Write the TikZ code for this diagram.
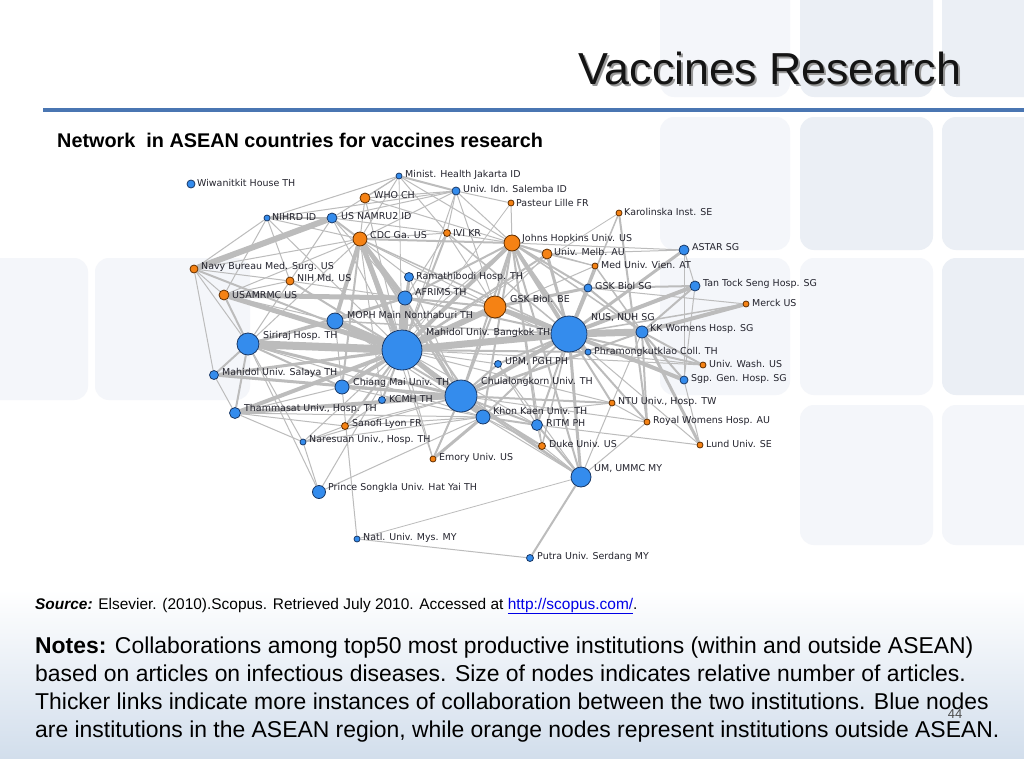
\documentclass[tikz,border=0pt]{standalone}
\usepackage{fontspec}
\setmainfont{Liberation Sans}
\newfontfamily\labfont{DejaVu Sans}
\pgfdeclarelayer{bg}\pgfdeclarelayer{edges}
\pgfsetlayers{bg,edges,main}
\definecolor{bfill}{RGB}{52,140,237}
\definecolor{bline}{RGB}{25,55,100}
\definecolor{ofill}{RGB}{245,130,20}
\definecolor{oline}{RGB}{95,45,0}
\definecolor{edgec}{RGB}{188,188,188}
\definecolor{labc}{RGB}{35,35,45}
\definecolor{rulec}{RGB}{74,118,178}
\definecolor{linkc}{RGB}{0,0,230}
\definecolor{tileA}{RGB}{235,239,245}
\definecolor{tileB}{RGB}{244,246,250}
\definecolor{panelB}{RGB}{210,222,236}
\tikzset{
 bn/.style={circle,draw=bline,fill=bfill,line width=0.8bp,inner sep=0pt,minimum size=#1},
 on/.style={circle,draw=oline,fill=ofill,line width=0.8bp,inner sep=0pt,minimum size=#1},
 lab/.style={anchor=west,inner sep=0pt,text=labc,font=\labfont\fontsize{9.5}{11}\selectfont},
 lk/.style={draw=edgec,line width=#1},
 tile/.style={fill=#1,rounded corners=14bp,draw=none},
 txt/.style={anchor=base west,inner sep=0pt},
}
\newcommand\NN[8]{\node[#5=#4bp] (#1) at (#2,#3) {};\node[lab] (#1l) at (#6,#7) {#8};}
\begin{document}
\begin{tikzpicture}[x=1bp,y=-1bp]
\useasboundingbox (0,0) rectangle (1024,768);
\begin{pgfonlayer}{bg}
\fill[white] (0,0) rectangle (1024,768);
\fill[tile=tileB] (660,-20) rectangle (790,97);
\fill[tile=tileA] (800,-20) rectangle (933,97);
\fill[tile=tileA] (942,-20) rectangle (1044,97);
\fill[tile=tileB] (660,117) rectangle (790,250);
\fill[tile=tileA] (800,117) rectangle (933,250);
\fill[tile=tileA] (942,117) rectangle (1044,250);
\fill[tile=tileB] (660,258) rectangle (790,395);
\fill[tile=tileB] (800,258) rectangle (933,395);
\fill[tile=tileA] (942,258) rectangle (1044,395);
\fill[tile=tileB] (800,405) rectangle (933,545);
\fill[tile=tileB] (942,405) rectangle (1044,545);
\fill[tile=tileB] (95,258) rectangle (250,400);
\fill[tile=tileB] (-20,258) rectangle (88,400);
\shade[top color=white,bottom color=panelB] (0,590) rectangle (1024,758);
\end{pgfonlayer}
% title
\node[txt,text=black!40] at (580,87) {\fontsize{45}{50}\selectfont Vaccines Research};
\node[txt,text=black!92] (title) at (578,85) {\fontsize{45}{50}\selectfont Vaccines Research};
\fill[rulec] (43,108) rectangle (1024,112);
\node[txt] (sub) at (57,147) {\fontsize{19.9}{22}\selectfont\bfseries Network\ \ in ASEAN countries for vaccines research};
% nodes
\NN{wiw}{191}{184}{8}{bn}{197}{183}{Wiwanitkit House TH}
\NN{min}{399}{176}{6}{bn}{405}{175}{Minist. Health Jakarta ID}
\NN{who}{365}{198}{10}{on}{374}{195}{WHO CH}
\NN{idn}{456}{191}{8}{bn}{463}{189}{Univ. Idn. Salemba ID}
\NN{nihrd}{267}{218}{6}{bn}{272}{217}{NIHRD ID}
\NN{namru}{332}{218}{10}{bn}{341}{216}{US NAMRU2 ID}
\NN{cdc}{360}{239}{14}{on}{370}{235}{CDC Ga. US}
\NN{ivi}{447}{233}{7}{on}{453}{233}{IVI KR}
\NN{navy}{194}{269}{8}{on}{201}{267}{Navy Bureau Med. Surg. US}
\NN{nih}{290}{281}{8}{on}{297}{278}{NIH Md. US}
\NN{usam}{224}{295}{10}{on}{232}{295}{USAMRMC US}
\NN{rama}{409}{277}{9}{bn}{416}{277}{Ramathibodi Hosp. TH}
\NN{afr}{405}{298}{14}{bn}{415}{292}{AFRIMS TH}
\NN{pas}{511}{203}{6}{on}{516}{203}{Pasteur Lille FR}
\NN{kar}{619}{213}{6}{on}{624}{212}{Karolinska Inst. SE}
\NN{jhu}{512}{243}{16}{on}{522}{239}{Johns Hopkins Univ. US}
\NN{melb}{547}{254}{10}{on}{554}{252}{Univ. Melb. AU}
\NN{astar}{684}{250}{10}{bn}{692}{247}{ASTAR SG}
\NN{vien}{595}{266}{6}{on}{601}{265}{Med Univ. Vien. AT}
\NN{gsksg}{588}{288}{8}{bn}{595}{286}{GSK Biol SG}
\NN{tts}{695}{286}{10}{bn}{703}{284}{Tan Tock Seng Hosp. SG}
\NN{gskbe}{495}{307}{22}{on}{510}{299}{GSK Biol. BE}
\NN{moph}{335}{321}{16}{bn}{347}{315}{MOPH Main Nonthaburi TH}
\NN{sir}{248}{344}{22}{bn}{263}{336}{Siriraj Hosp. TH}
\NN{mb}{402}{350}{40}{bn}{426}{333}{Mahidol Univ. Bangkok TH}
\NN{sal}{214}{375}{9}{bn}{222}{373}{Mahidol Univ. Salaya TH}
\NN{cm}{342}{387}{14}{bn}{353}{383}{Chiang Mai Univ. TH}
\NN{kcmh}{382}{400}{7}{bn}{389}{399}{KCMH TH}
\NN{chula}{461}{396}{32}{bn}{481}{382}{Chulalongkorn Univ. TH}
\NN{tham}{235}{413}{11}{bn}{244}{409}{Thammasat Univ., Hosp. TH}
\NN{kkn}{483}{417}{14}{bn}{493}{411}{Khon Kaen Univ. TH}
\NN{san}{345}{426}{7}{on}{352}{424}{Sanofi Lyon FR}
\NN{upm}{498}{364}{7}{bn}{505}{362}{UPM, PGH PH}
\NN{merck}{746}{304}{6}{on}{752}{303}{Merck US}
\NN{nus}{569}{334}{36}{bn}{591}{318}{NUS, NUH SG}
\NN{kkw}{642}{332}{12}{bn}{650}{329}{KK Womens Hosp. SG}
\NN{phr}{588}{352}{6}{bn}{594}{352}{Phramongkutklao Coll. TH}
\NN{wash}{703}{365}{6}{on}{709}{364}{Univ. Wash. US}
\NN{sgh}{684}{380}{8}{bn}{691}{379}{Sgp. Gen. Hosp. SG}
\NN{ntu}{612}{403}{6}{on}{618}{402}{NTU Univ., Hosp. TW}
\NN{roy}{647}{422}{6}{on}{653}{421}{Royal Womens Hosp. AU}
\NN{ritm}{537}{425}{11}{bn}{546}{423}{RITM PH}
\NN{nar}{303}{442}{6}{bn}{309}{440}{Naresuan Univ., Hosp. TH}
\NN{emo}{433}{459}{6}{on}{439}{458}{Emory Univ. US}
\NN{psu}{319}{492}{13}{bn}{328}{488}{Prince Songkla Univ. Hat Yai TH}
\NN{num}{357}{539}{6}{bn}{363}{538}{Natl. Univ. Mys. MY}
\NN{duke}{542}{446}{7}{on}{549}{444}{Duke Univ. US}
\NN{lund}{700}{445}{6}{on}{706}{444}{Lund Univ. SE}
\NN{um}{581}{477}{20}{bn}{594}{469}{UM, UMMC MY}
\NN{putra}{530}{558}{7}{bn}{537}{557}{Putra Univ. Serdang MY}
% edges
\begin{pgfonlayer}{edges}
\foreach \a/\b/\w in {
mb/afr/9,mb/sir/8,mb/moph/6,mb/cdc/5,mb/gskbe/6,mb/nus/7,mb/chula/5,mb/cm/4,mb/kkn/3,mb/tham/4,
mb/sal/3,mb/jhu/4,mb/usam/5,mb/rama/3,mb/nih/2,mb/navy/2,mb/who/1,mb/min/0.8,mb/melb/2,mb/kcmh/2,
mb/upm/1,mb/ritm/1,mb/san/2,mb/nar/1,mb/psu/1,mb/emo/1,mb/phr/2,mb/um/1.5,mb/namru/1,mb/ivi/2,
mb/pas/0.8,mb/wash/1,mb/vien/1,mb/idn/1,mb/nihrd/1,mb/kar/0.8,mb/ntu/1,
nus/kkw/7,nus/tts/4,nus/gsksg/4,nus/sgh/4,nus/phr/3,nus/astar/3,nus/jhu/4,nus/gskbe/5,nus/chula/4,
nus/um/3,nus/ritm/2,nus/ntu/2,nus/roy/2,nus/lund/1,nus/merck/1.5,nus/wash/2,nus/duke/1.5,nus/kar/1.5,
nus/melb/3,nus/vien/2,nus/kkn/2,nus/upm/2,nus/ivi/1.5,nus/cdc/1.5,nus/afr/2,nus/moph/1.5,nus/rama/1,
kkw/merck/4,kkw/tts/2,kkw/sgh/2,kkw/lund/3,kkw/wash/2,kkw/roy/2,kkw/gsksg/2,kkw/vien/1.5,kkw/ntu/1,
kkw/chula/2,kkw/jhu/1.5,
cdc/afr/4,cdc/moph/4,cdc/namru/2,cdc/nihrd/1,cdc/who/1,cdc/ivi/1,cdc/jhu/2,cdc/navy/1,cdc/usam/1,
cdc/sir/1,cdc/chula/2,cdc/kkn/2,cdc/cm/2,cdc/rama/1,cdc/kcmh/1,cdc/emo/1,cdc/gskbe/1,cdc/min/1,
jhu/afr/2,jhu/chula/2,jhu/melb/2,jhu/pas/1,jhu/idn/1,jhu/min/1,jhu/astar/1,jhu/gsksg/2,jhu/phr/2,
jhu/ritm/2,jhu/kkn/2,jhu/duke/1,jhu/um/2,jhu/vien/1,jhu/who/1,jhu/ivi/1,
chula/kcmh/5,chula/kkn/3,chula/tham/4,chula/cm/2,chula/sir/3,chula/ritm/2,chula/upm/2,chula/duke/2,
chula/emo/2,chula/san/1,chula/nar/1,chula/um/2,chula/gskbe/2,chula/phr/2,chula/ntu/2,chula/roy/1,
chula/sal/3,chula/moph/2,chula/afr/2,chula/rama/1,
idn/min/2,idn/namru/1,idn/nihrd/1,idn/who/1,idn/ivi/1,idn/gskbe/1,idn/cdc/1,idn/pas/1,
min/nihrd/1,min/who/1,min/namru/1,min/ivi/1,
nihrd/namru/2,nihrd/navy/1,nihrd/nih/1,nihrd/usam/1,
navy/namru/6,navy/usam/1,navy/nih/1,navy/sir/1,navy/sal/1,
namru/afr/1,namru/nih/1,namru/ivi/1,
usam/afr/5,usam/sir/2,usam/nih/1,usam/moph/1,
nih/afr/1,nih/sir/1,
sir/sal/2,sir/tham/2,sir/cm/2,sir/kkn/1,sir/moph/2,sir/nar/1,sir/psu/1,sir/afr/2,
sal/tham/1,tham/nar/1,tham/cm/1,tham/kkn/1,tham/san/1,
psu/nar/1,psu/kkn/1,num/cm/1,num/putra/1,num/um/0.8,putra/um/2,
um/duke/1,um/ritm/2,um/kkn/1,um/roy/1,um/ntu/1,um/upm/1,
emo/kkn/3,nar/san/1,nar/kkn/1,san/kkn/1,san/kcmh/1,
duke/ritm/1,duke/kkn/1,lund/ritm/1,roy/kar/2,roy/ntu/1,ritm/upm/1,ritm/kkn/2,
phr/wash/1,phr/gskbe/1,sgh/tts/1,sgh/astar/1,sgh/lund/1,ntu/kkn/1,
tts/gsksg/2,tts/astar/1,astar/melb/1,vien/melb/1,vien/gsksg/1,
gsksg/gskbe/3,gsksg/merck/1,gskbe/afr/2,gskbe/rama/1,gskbe/melb/1,gskbe/jhu/2,
ivi/afr/1,ivi/gskbe/1,rama/afr/1,afr/moph/2,moph/cm/1,moph/kkn/1,cm/kkn/1,cm/jhu/1}
{\draw[lk=\w bp] (\a) -- (\b);}
\end{pgfonlayer}
% source and notes
\node[txt] (src) at (35,609) {\fontsize{15.5}{18}\selectfont\textbf{\textit{Source:}} Elsevier. (2010).Scopus. Retrieved July 2010. Accessed at \textcolor{linkc}{\underline{http://scopus.com/}}.};
\node[txt] (n1) at (35,653) {\fontsize{23}{27}\selectfont\textbf{Notes:} Collaborations among top50 most productive institutions (within and outside ASEAN)};
\node[txt] (n2) at (35,681) {\fontsize{23}{27}\selectfont based on articles on infectious diseases. Size of nodes indicates relative number of articles.};
\node[txt] (n3) at (35,709) {\fontsize{23}{27}\selectfont Thicker links indicate more instances of collaboration between the two institutions. Blue nodes};
\node[txt] (n4) at (35,737) {\fontsize{23}{27}\selectfont are institutions in the ASEAN region, while orange nodes represent institutions outside ASEAN.};
\node[text=black!70] (pg) at (955,714) {\fontsize{13}{15}\selectfont 44};
\end{tikzpicture}
\end{document}
